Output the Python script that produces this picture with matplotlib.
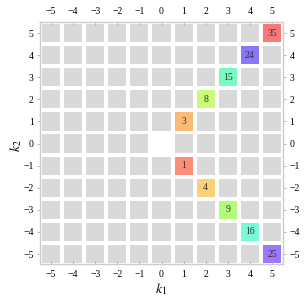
import matplotlib
matplotlib.use("Agg")
import matplotlib.pyplot as plt
from matplotlib.colors import hsv_to_rgb
from matplotlib.patches import Rectangle

# lattice points k1, k2 in -5..5 (origin left out)
ks = list(range(-5, 6))
# labelled cells: (k1, k2, value)
diag_k1 = [1, 2, 3, 4, 5]
diag_k2 = [1, 2, 3, 4, 5]
diag_val = [3, 8, 15, 24, 35]
anti_k1 = [1, 2, 3, 4, 5]
anti_k2 = [-1, -2, -3, -4, -5]
anti_val = [1, 4, 9, 16, 25]

plt.rcParams['font.family'] = ['Liberation Serif', 'DejaVu Serif']
plt.rcParams['mathtext.fontset'] = 'stix'

fig = plt.figure(figsize=(3.05, 3.01), dpi=100)
ax = fig.add_axes([40 / 305, 37 / 301, 243 / 305, 242 / 301])

labelled = {}
for a, b, v in zip(diag_k1 + anti_k1, diag_k2 + anti_k2, diag_val + anti_val):
    labelled[(a, b)] = v

w = 0.82
for i in ks:
    for j in ks:
        if i == 0 and j == 0:
            continue
        if (i, j) in labelled:
            v = labelled[(i, j)]
            col = hsv_to_rgb(((v / 35.0) % 1.0, 0.52, 0.98))
            ax.add_patch(Rectangle((i - w / 2, j - w / 2), w, w, facecolor=col, edgecolor='none'))
            ax.text(i, j, str(v), ha='center', va='center', fontsize=7, color='#333333')
        else:
            ax.add_patch(Rectangle((i - w / 2, j - w / 2), w, w, facecolor='#d9d9d9', edgecolor='none'))

ax.set_xlim(-5.5, 5.5)
ax.set_ylim(-5.45, 5.5)
ax.set_xticks(ks)
ax.set_yticks(ks)
ax.tick_params(axis='x', direction='in', top=True, labeltop=True, length=2.5, width=0.6,
               color='#aaaaaa', labelsize=7, pad=4)
ax.tick_params(axis='y', direction='out', right=True, labelright=True, length=2.5, width=0.6,
               color='#aaaaaa', labelsize=7, pad=2)
for s in ax.spines.values():
    s.set_color('#cccccc')
    s.set_linewidth(1.0)

fig.text(161 / 305, 1 - 289 / 301, '$k_1$', ha='center', va='center', fontsize=10)
fig.text(16 / 305, 1 - 146 / 301, '$k_2$', ha='center', va='center', fontsize=10, rotation=90)

fig.savefig('out.png', dpi=100)
